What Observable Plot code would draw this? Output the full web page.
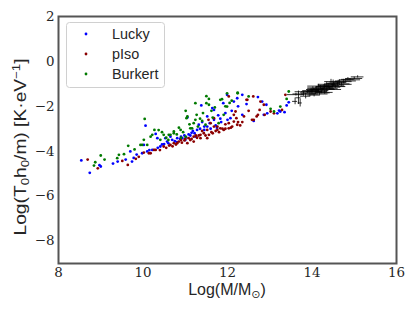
<!DOCTYPE html>
<html>
<head>
<meta charset="utf-8">
<script src="https://cdn.jsdelivr.net/npm/d3@7"></script>
<script src="https://cdn.jsdelivr.net/npm/@observablehq/plot@0.6"></script>
<style>
  html, body { margin: 0; padding: 0; background: #fff; }
  #chart { width: 415px; height: 311px; }
</style>
</head>
<body>
<div id="chart"></div>
<script>
const xTicks = [8, 10, 12, 14, 16];
const yTicks = [2, 0, -2, -4, -6, -8];
const seriesNames = ["Lucky", "pIso", "Burkert"];
const seriesColors = ["#0000ff", "#8b0000", "#007a00"];

const lucky = [
  [8.54,-4.41],[8.74,-4.96],[8.97,-4.62],[9.0,-4.68],[9.29,-4.55],[9.40,-4.46],[9.59,-4.37],[9.70,-4.01],
  [9.74,-4.46],[9.78,-4.30],[9.85,-4.15],[9.98,-4.09],[10.02,-3.72],[10.06,-2.86],[10.10,-4.01],[10.15,-3.95],
  [10.22,-3.94],[10.30,-3.23],[10.34,-3.42],[10.41,-3.79],[10.45,-3.70],[10.53,-3.42],[10.57,-3.57],[10.60,-3.65],
  [10.65,-3.35],[10.69,-3.49],[10.75,-3.55],[10.81,-3.42],[10.88,-3.45],[10.93,-3.42],[10.98,-3.30],[11.02,-3.38],
  [11.05,-2.50],[11.08,-3.25],[11.12,-3.30],[11.18,-3.10],[11.22,-3.20],[11.28,-3.05],[11.32,-2.82],[11.35,-3.00],
  [11.38,-1.96],[11.40,-2.70],[11.45,-2.90],[11.52,-2.90],[11.52,-2.45],[11.58,-2.75],[11.64,-2.08],[11.68,-2.60],
  [11.68,-2.16],[11.72,-2.85],[11.78,-2.40],[11.83,-2.55],[11.90,-1.86],[11.95,-2.30],[11.99,-1.49],[12.07,-2.53],
  [12.15,-1.79],[12.23,-1.64],[12.35,-1.49],[12.35,-2.38],[12.62,-2.65],[12.72,-1.59],[12.82,-1.79],[12.86,-2.38],
  [12.92,-1.93],[12.94,-2.31],[13.18,-2.31],[13.22,-2.19],[13.25,-2.23],[13.35,-2.26],[13.40,-1.96],[13.45,-1.82],
  [10.80,-3.60],[11.00,-3.50],[11.25,-3.35],[10.35,-3.85],[11.60,-3.00],[11.85,-2.70],[12.00,-2.60],[12.10,-2.20],
  [12.25,-2.00],[12.45,-1.90],[10.50,-3.68],[10.90,-3.35],[11.15,-3.18],[11.45,-3.05],[11.75,-2.95]
];

const pIso = [
  [8.69,-4.37],[8.93,-4.76],[9.51,-4.43],[9.64,-4.61],[9.83,-4.34],[9.90,-4.25],[10.02,-4.06],[10.14,-4.09],
  [10.18,-4.09],[10.26,-3.94],[10.30,-3.94],[10.40,-3.95],[10.49,-3.79],[10.55,-3.85],[10.62,-3.75],[10.65,-3.72],
  [10.73,-3.64],[10.78,-3.70],[10.81,-3.64],[10.85,-3.57],[10.92,-3.62],[10.98,-3.52],[11.05,-3.64],[11.08,-3.42],
  [11.12,-3.50],[11.20,-3.35],[11.20,-3.57],[11.28,-3.40],[11.32,-3.30],[11.36,-3.27],[11.36,-3.42],[11.44,-3.20],
  [11.48,-3.30],[11.52,-3.05],[11.52,-3.42],[11.56,-3.27],[11.60,-2.75],[11.62,-3.15],[11.68,-2.53],[11.68,-2.90],
  [11.72,-3.10],[11.76,-2.90],[11.76,-3.05],[11.80,-3.15],[11.83,-2.98],[11.88,-3.00],[11.91,-3.05],[11.95,-2.80],
  [12.03,-1.56],[12.03,-2.75],[12.03,-2.98],[12.08,-2.95],[12.11,-2.90],[12.15,-2.38],[12.15,-2.68],[12.19,-2.23],
  [12.21,-2.53],[12.23,-2.82],[12.30,-2.85],[12.39,-2.45],[12.45,-1.71],[12.47,-1.71],[12.58,-2.60],[12.61,-1.56],
  [12.62,-2.60],[12.69,-2.45],[12.72,-2.38],[12.76,-2.16],[12.78,-1.79],[12.86,-1.93],[12.88,-2.38],[13.02,-2.23],
  [13.10,-2.31],[13.29,-2.16],[13.37,-1.49],[11.00,-3.45],[11.40,-3.10],[10.90,-3.50],[12.35,-2.70],[11.55,-2.60],
  [12.50,-2.20],[10.70,-3.78],[11.15,-3.45],[11.25,-3.30],[11.65,-3.20],[11.95,-3.00],[12.25,-2.70]
];

const burkert = [
  [8.87,-4.49],[8.84,-4.64],[9.00,-4.19],[9.09,-4.37],[9.39,-4.31],[9.43,-4.16],[9.55,-4.13],[9.65,-3.76],
  [9.80,-3.92],[9.94,-3.72],[9.98,-3.72],[10.02,-3.49],[10.04,-2.56],[10.10,-3.72],[10.18,-3.35],[10.22,-3.27],
  [10.27,-3.05],[10.37,-3.06],[10.41,-3.49],[10.49,-3.27],[10.55,-3.40],[10.61,-3.27],[10.65,-3.27],[10.73,-3.12],
  [10.73,-3.20],[10.80,-3.25],[10.89,-3.05],[10.95,-3.15],[11.01,-2.20],[11.01,-3.35],[11.03,-2.53],[11.05,-2.45],
  [11.12,-2.98],[11.16,-2.98],[11.20,-2.75],[11.24,-1.86],[11.24,-2.60],[11.27,-2.38],[11.35,-2.55],[11.42,-2.30],
  [11.48,-2.82],[11.50,-1.55],[11.50,-1.86],[11.56,-1.67],[11.56,-1.93],[11.62,-2.20],[11.70,-2.05],[11.79,-2.75],
  [11.83,-1.71],[11.87,-1.68],[11.91,-2.38],[11.95,-2.00],[11.99,-1.42],[11.99,-2.01],[12.05,-1.85],[12.24,-1.39],
  [12.24,-1.42],[12.50,-1.56],[13.02,-2.11],[13.10,-2.23],[13.25,-2.01],[13.40,-1.67],[13.45,-1.34],[10.90,-3.40],
  [11.30,-2.90],[10.60,-3.50],[11.65,-2.50],[12.10,-1.75],[10.45,-3.15],[10.85,-2.95],[11.40,-2.65],[11.10,-2.80]
];

// cluster with error bars: [x, y, xerr, yerr]
const cluster = [
  [13.62,-1.48,0.20,0.06],[13.68,-1.62,0.06,0.30],[13.72,-1.85,0.05,0.18],[13.60,-1.78,0.06,0.15],
  [13.80,-1.45,0.25,0.10],[13.85,-1.55,0.12,0.12],[13.90,-1.35,0.30,0.08],[13.95,-1.45,0.20,0.12],
  [14.00,-1.35,0.25,0.10],[14.02,-1.25,0.15,0.12],[14.08,-1.40,0.35,0.08],[14.10,-1.22,0.20,0.10],
  [14.15,-1.30,0.25,0.08],[14.20,-1.18,0.30,0.10],[14.22,-1.32,0.15,0.12],[14.28,-1.20,0.25,0.08],
  [14.30,-1.12,0.20,0.10],[14.35,-1.25,0.35,0.10],[14.40,-1.08,0.25,0.12],[14.42,-1.20,0.20,0.08],
  [14.48,-1.10,0.30,0.08],[14.50,-0.98,0.15,0.15],[14.55,-1.12,0.25,0.08],[14.60,-1.00,0.30,0.10],
  [14.65,-0.95,0.15,0.12],[14.70,-1.02,0.25,0.08],[14.75,-0.90,0.20,0.10],[14.80,-0.87,0.25,0.10],
  [14.90,-0.82,0.25,0.06],[15.00,-0.76,0.20,0.06],[15.08,-0.69,0.15,0.05],[14.05,-1.50,0.15,0.08],
  [14.30,-1.38,0.20,0.08],[14.45,-0.90,0.15,0.10],[14.15,-1.10,0.25,0.08],[14.25,-1.25,0.30,0.06],
  [14.38,-1.15,0.30,0.06],[14.52,-1.05,0.25,0.08],[14.12,-1.35,0.25,0.06],[13.98,-1.30,0.20,0.10],
  [14.62,-0.92,0.20,0.08],[14.85,-0.80,0.15,0.08],[14.18,-1.45,0.20,0.06],[14.35,-1.02,0.20,0.10]
];

const series = [lucky, pIso, burkert];
const points = series.flatMap((arr, i) => arr.map(([x, y]) => ({x, y, s: seriesNames[i]})));
const errs = cluster.map(([x, y, xe, ye]) => ({x, y, x1: x - xe, x2: x + xe, y1: y - ye, y2: y + ye}));

const plot = Plot.plot({
  width: 415,
  height: 311,
  marginLeft: 58,
  marginRight: 19,
  marginTop: 16,
  marginBottom: 48,
  style: {fontFamily: "'DejaVu Serif', serif", fontSize: "13.4px", color: "#262626", background: "#fff"},
  x: {domain: [8, 16]},
  y: {domain: [-9, 2]},
  color: {domain: seriesNames, range: seriesColors},
  marks: [
    Plot.axisX({ticks: xTicks, tickSize: 0, tickPadding: 4, label: null, tickFormat: d3.format("d")}),
    Plot.axisY({ticks: yTicks, tickSize: 0, tickPadding: 4, label: null, tickFormat: d3.format("d")}),
    Plot.dot(points, {x: "x", y: "y", fill: "s", r: 1.4, stroke: null}),
    Plot.ruleY(errs, {y: "y", x1: "x1", x2: "x2", stroke: "#000", strokeWidth: 1, strokeOpacity: 0.8}),
    Plot.ruleX(errs, {x: "x", y1: "y1", y2: "y2", stroke: "#000", strokeWidth: 1, strokeOpacity: 0.8}),
    Plot.frame({stroke: "#555", strokeWidth: 2})
  ]
});

document.getElementById("chart").appendChild(plot);

const svg = d3.select(plot);
const sans = "'Liberation Sans', Arial, sans-serif";

// x label
const xl = svg.append("text")
  .attr("x", 227).attr("y", 295)
  .attr("text-anchor", "middle")
  .attr("font-family", sans).attr("font-size", 16).attr("fill", "#262626");
xl.append("tspan").text("Log(M/M");
xl.append("tspan").attr("font-size", 11).attr("dy", 3).attr("font-family", "'DejaVu Sans', sans-serif").text("\u2299");
xl.append("tspan").attr("dy", -3).text(")");

// y label
const yl = svg.append("text")
  .attr("transform", "translate(26,147) rotate(-90)")
  .attr("text-anchor", "middle")
  .attr("textLength", 177).attr("lengthAdjust", "spacingAndGlyphs")
  .attr("font-family", sans).attr("font-size", 16).attr("fill", "#262626");
yl.append("tspan").text("Log(T");
yl.append("tspan").attr("font-size", 11).attr("dy", 3).text("0");
yl.append("tspan").attr("dy", -3).text("h");
yl.append("tspan").attr("font-size", 11).attr("dy", 3).text("0");
yl.append("tspan").attr("dy", -3).text("/m) [K\u00B7eV");
yl.append("tspan").attr("font-size", 11).attr("dy", -6).text("\u22121");
yl.append("tspan").attr("dy", 6).text("]");

// legend
const lg = svg.append("g");
lg.append("rect").attr("x", 66.5).attr("y", 22.5).attr("width", 98).attr("height", 65)
  .attr("rx", 3).attr("fill", "#fff").attr("fill-opacity", 0.8).attr("stroke", "#d0d0d0");
seriesNames.forEach((name, i) => {
  const cy = 34 + i * 20;
  lg.append("circle").attr("cx", 86).attr("cy", cy).attr("r", 1.4).attr("fill", seriesColors[i]);
  lg.append("text").attr("x", 112).attr("y", cy + 5).attr("text-anchor", "start")
    .attr("font-family", sans).attr("font-size", 14.4).attr("fill", "#262626").text(name);
});
</script>
</body>
</html>
